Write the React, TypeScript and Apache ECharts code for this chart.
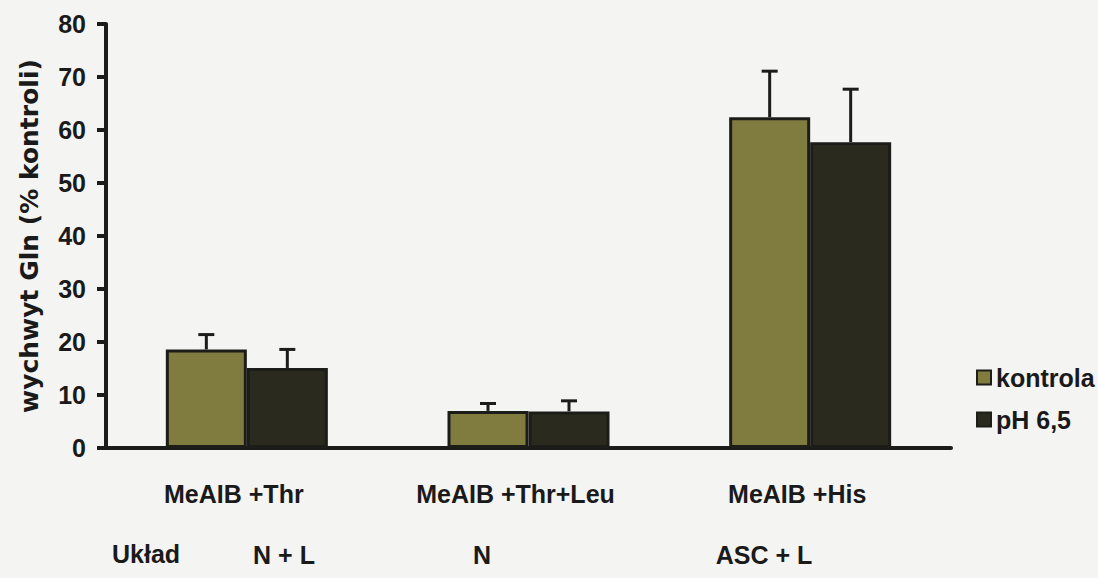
import React, { useEffect, useRef } from "react";
import * as echarts from "echarts";

const categories = ["MeAIB +Thr", "MeAIB +Thr+Leu", "MeAIB +His"];
const kontrola = [18.6, 7.0, 62.4];
const kontrolaErr = [2.8, 1.4, 8.7];
const ph = [15.1, 6.9, 57.7];
const phErr = [3.5, 2.0, 10.0];
const yTicks = { min: 0, max: 80, interval: 10 };
const systemLabel = "Układ";
const systems = ["N + L", "N", "ASC + L"];
const systemX = [284, 482, 764];

const FONT = "'Liberation Sans', Arial, Helvetica, sans-serif";
const BAR_W = 81;
const EDGE = "#1c1c18";

function errSeries(name: string, vals: number[], errs: number[], offset: number) {
  return {
    name,
    type: "custom",
    z: 5,
    encode: { x: 0, y: 1 },
    data: vals.map((v, i) => [i, v, errs[i]]),
    renderItem: (params: any, api: any) => {
      const idx = api.value(0);
      const v = api.value(1);
      const e = api.value(2);
      const base = api.coord([idx, v]);
      const top = api.coord([idx, v + e]);
      const x = base[0] + offset;
      const st = { stroke: EDGE, lineWidth: 3 };
      return {
        type: "group",
        children: [
          { type: "line", shape: { x1: x, y1: base[1], x2: x, y2: top[1] }, style: st },
          { type: "line", shape: { x1: x - 8, y1: top[1], x2: x + 8, y2: top[1] }, style: st },
        ],
      };
    },
  };
}

export default function App() {
  const ref = useRef<HTMLDivElement>(null);
  useEffect(() => {
    if (!ref.current) return;
    const chart = echarts.init(ref.current, null, { renderer: "svg" });
    chart.setOption({
      animation: false,
      backgroundColor: "#f4f4f2",
      grid: { left: 106, right: 147, top: 24, bottom: 130 },
      legend: {
        orient: "vertical",
        left: 971,
        top: 360,
        icon: "rect",
        itemWidth: 14,
        itemHeight: 14,
        itemGap: 17,
        data: ["kontrola", "pH 6,5"],
        textStyle: { fontFamily: FONT, fontWeight: "bold", fontSize: 25, color: "#1a1a1a" },
      },
      xAxis: {
        type: "category",
        data: categories,
        axisLine: { show: true, lineStyle: { color: EDGE, width: 4 } },
        axisTick: { show: false },
        axisLabel: {
          margin: 33,
          padding: [0, 26, 0, 0],
          fontFamily: FONT,
          fontWeight: "bold",
          fontSize: 25,
          color: "#1a1a1a",
        },
      },
      yAxis: {
        type: "value",
        min: yTicks.min,
        max: yTicks.max,
        interval: yTicks.interval,
        name: "wychwyt Gln (% kontroli)",
        nameLocation: "middle",
        nameGap: 64,
        nameTextStyle: {
          fontFamily: "'DejaVu Sans', " + FONT,
          fontWeight: "bold",
          fontSize: 25,
          color: "#1a1a1a",
        },
        axisLine: { show: true, lineStyle: { color: EDGE, width: 4 } },
        axisTick: { show: true, length: 9, lineStyle: { color: EDGE, width: 4 } },
        splitLine: { show: false },
        axisLabel: {
          margin: 20,
          fontFamily: FONT,
          fontWeight: "bold",
          fontSize: 25,
          color: "#1a1a1a",
        },
      },
      series: [
        {
          name: "kontrola",
          type: "bar",
          data: kontrola,
          barWidth: BAR_W,
          barGap: "0%",
          itemStyle: { color: "#807c40", borderColor: EDGE, borderWidth: 3 },
        },
        {
          name: "pH 6,5",
          type: "bar",
          data: ph,
          barWidth: BAR_W,
          barGap: "0%",
          itemStyle: { color: "#2a2a1f", borderColor: EDGE, borderWidth: 3 },
        },
        errSeries("err-kontrola", kontrola, kontrolaErr, -BAR_W / 2),
        errSeries("err-ph", ph, phErr, BAR_W / 2),
      ],
      graphic: [
        {
          type: "text",
          left: 112,
          top: 541,
          style: { text: systemLabel, fontFamily: FONT, fontWeight: "bold", fontSize: 25, fill: "#1a1a1a" },
        },
        ...systems.map((s, i) => ({
          type: "text",
          x: systemX[i],
          y: 555,
          style: {
            text: s,
            fontFamily: FONT,
            fontWeight: "bold",
            fontSize: 25,
            fill: "#1a1a1a",
            align: "center",
            verticalAlign: "middle",
          },
        })),
      ],
    });
    return () => chart.dispose();
  }, []);
  return (
    <div
      ref={ref}
      style={{ position: "fixed", left: 0, top: 0, width: 1098, height: 578 }}
    />
  );
}
